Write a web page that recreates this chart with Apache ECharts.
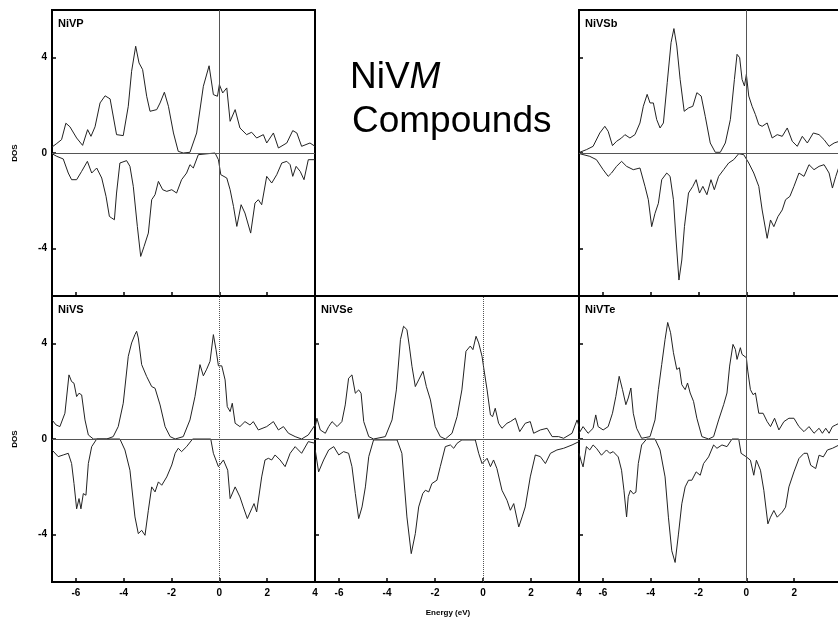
<!DOCTYPE html>
<html><head><meta charset="utf-8">
<script src="https://cdn.jsdelivr.net/npm/echarts@6/dist/echarts.min.js"></script>
<style>html,body{margin:0;padding:0;background:#fff}#c{width:838px;height:622px}</style>
</head><body><div id="c"></div>
<script>
// ---- tick labels ----
const xTicks = [-6, -4, -2, 0, 2, 4];
const yTicks = [-4, 0, 4];
const panelNames = ['NiVP', 'NiVSb', 'NiVS', 'NiVSe', 'NiVTe'];

// ---- data: [energy (eV), DOS] ----
const nivpUp = [[-7.0,0.25],[-6.8,0.4],[-6.6,0.56],[-6.42,1.25],[-6.25,1.1],[-5.97,0.63],[-5.72,0.32],[-5.51,0.98],[-5.37,0.7],[-5.2,1.1],[-4.99,2.1],[-4.78,2.4],[-4.57,2.27],[-4.3,0.77],[-4.02,0.73],[-3.81,1.96],[-3.67,3.43],[-3.5,4.48],[-3.36,3.78],[-3.21,3.5],[-3.04,2.38],[-2.9,1.75],[-2.62,1.82],[-2.48,2.1],[-2.3,2.55],[-2.13,1.96],[-1.92,0.84],[-1.72,0.07],[-1.51,0],[-1.23,0.03],[-0.95,0.84],[-0.67,2.8],[-0.43,3.66],[-0.25,2.45],[-0.08,2.38],[0,2.87],[0.14,2.52],[0.31,2.73],[0.45,1.33],[0.66,1.82],[0.86,1.05],[1.14,0.77],[1.35,0.87],[1.56,0.63],[1.84,0.77],[1.98,0.42],[2.26,0.84],[2.47,0.21],[2.82,0.42],[3.07,0.94],[3.24,0.84],[3.44,0.28],[3.79,0.42],[4.0,0.28]];
const nivpDown = [[-7.0,-0.03],[-6.8,-0.14],[-6.53,-0.25],[-6.32,-0.84],[-6.18,-1.12],[-5.97,-1.12],[-5.76,-0.77],[-5.52,-0.35],[-5.34,-0.84],[-5.13,-0.63],[-4.92,-1.05],[-4.74,-1.82],[-4.6,-2.66],[-4.5,-2.73],[-4.39,-2.8],[-4.3,-1.68],[-4.16,-0.42],[-3.88,-0.32],[-3.74,-0.56],[-3.6,-1.4],[-3.43,-3.08],[-3.29,-4.34],[-3.15,-3.92],[-2.97,-3.36],[-2.83,-1.96],[-2.69,-1.75],[-2.55,-1.19],[-2.37,-1.54],[-2.2,-1.61],[-1.99,-1.54],[-1.79,-1.68],[-1.58,-1.12],[-1.37,-0.84],[-1.23,-0.49],[-1.09,-0.63],[-0.88,-0.07],[-0.81,0],[-0.18,0],[-0.04,-0.28],[0.06,-0.91],[0.31,-1.05],[0.45,-1.54],[0.59,-2.24],[0.73,-3.08],[0.91,-2.17],[1.07,-2.52],[1.31,-3.36],[1.49,-2.1],[1.63,-1.96],[1.77,-2.17],[1.98,-0.98],[2.19,-1.26],[2.4,-0.91],[2.61,-0.42],[2.82,-0.35],[2.96,-0.49],[3.07,-0.98],[3.21,-0.56],[3.38,-0.77],[3.54,-1.12],[3.72,-0.28],[4.0,-0.28]];

const nivsbUp = [[-6.97,0.03],[-6.69,0.14],[-6.41,0.28],[-6.13,0.84],[-5.92,1.12],[-5.78,0.91],[-5.6,0.31],[-5.43,0.49],[-5.22,0.63],[-5.08,0.77],[-4.87,0.63],[-4.66,0.77],[-4.45,1.26],[-4.31,1.96],[-4.15,2.46],[-4.03,2.1],[-3.89,2.1],[-3.75,1.4],[-3.61,1.05],[-3.47,1.26],[-3.31,2.95],[-3.15,4.63],[-3.03,5.22],[-2.91,4.49],[-2.77,3.09],[-2.6,1.75],[-2.42,1.89],[-2.24,1.96],[-2.07,2.53],[-1.89,2.39],[-1.72,1.54],[-1.51,0.42],[-1.3,0.03],[-1.09,0.03],[-0.88,0.42],[-0.67,1.4],[-0.5,3.09],[-0.39,4.14],[-0.28,4.0],[-0.18,3.09],[-0.08,2.81],[0,3.3],[0.1,2.39],[0.24,1.96],[0.38,1.61],[0.52,1.19],[0.66,1.12],[0.87,1.26],[1.08,0.63],[1.29,0.77],[1.5,0.7],[1.71,1.05],[1.92,0.49],[2.13,0.28],[2.34,0.7],[2.55,0.42],[2.8,0.84],[3.04,0.77],[3.25,0.56],[3.46,0.28],[3.67,0.42],[3.88,0.49],[4.0,0.5]];
const nivsbDown = [[-6.97,-0.03],[-6.55,-0.14],[-6.27,-0.28],[-5.99,-0.7],[-5.78,-0.98],[-5.64,-0.84],[-5.43,-0.56],[-5.22,-0.35],[-5.01,-0.56],[-4.73,-0.7],[-4.45,-0.63],[-4.24,-1.4],[-4.1,-1.96],[-3.96,-3.09],[-3.82,-2.53],[-3.68,-2.11],[-3.54,-1.12],[-3.33,-0.84],[-3.19,-0.98],[-3.05,-1.96],[-2.94,-3.65],[-2.82,-5.33],[-2.7,-4.49],[-2.59,-3.09],[-2.42,-1.68],[-2.24,-1.4],[-2.1,-1.12],[-1.96,-1.68],[-1.82,-1.4],[-1.65,-1.75],[-1.48,-1.12],[-1.34,-1.54],[-1.16,-0.98],[-0.95,-0.7],[-0.74,-0.42],[-0.53,-0.28],[-0.32,-0.03],[-0.11,-0.07],[0.1,-0.42],[0.31,-0.84],[0.52,-1.4],[0.66,-2.39],[0.87,-3.58],[1.01,-2.81],[1.15,-3.09],[1.32,-2.67],[1.5,-2.39],[1.64,-1.96],[1.82,-1.82],[1.99,-1.4],[2.2,-0.84],[2.41,-0.98],[2.62,-0.49],[2.83,-0.7],[3.04,-0.56],[3.25,-0.49],[3.46,-0.84],[3.6,-1.47],[3.74,-0.98],[3.88,-0.56],[4.0,-0.5]];

const nivsUp = [[-7.0,0.8],[-6.83,0.59],[-6.67,0.52],[-6.46,1.08],[-6.29,2.69],[-6.18,2.41],[-6.08,2.34],[-5.97,1.78],[-5.87,1.92],[-5.76,1.85],[-5.62,0.8],[-5.48,0.17],[-5.27,0],[-4.71,0],[-4.44,0.1],[-4.23,0.52],[-4.02,1.5],[-3.81,3.47],[-3.67,4.03],[-3.53,4.38],[-3.46,4.52],[-3.39,4.24],[-3.25,3.12],[-3.04,2.62],[-2.83,2.2],[-2.69,2.13],[-2.48,1.43],[-2.27,0.52],[-2.06,0.1],[-1.85,0],[-1.51,0.1],[-1.23,0.8],[-1.02,1.78],[-0.81,3.12],[-0.67,2.65],[-0.53,2.93],[-0.39,3.26],[-0.25,4.38],[-0.14,3.75],[-0.04,3.07],[0.1,3.07],[0.24,2.48],[0.33,1.36],[0.45,1.15],[0.54,1.5],[0.66,0.66],[0.86,0.52],[1.07,0.73],[1.28,0.59],[1.42,0.73],[1.63,0.38],[1.98,0.52],[2.26,0.73],[2.47,0.38],[2.68,0.52],[2.89,0.24],[3.17,0.1],[3.44,0],[3.72,0.17],[4.0,0.59]];
const nivsDown = [[-7.0,-0.46],[-6.74,-0.74],[-6.53,-0.67],[-6.32,-0.6],[-6.18,-1.03],[-6.08,-1.87],[-5.97,-2.93],[-5.87,-2.5],[-5.79,-2.93],[-5.69,-2.29],[-5.58,-2.36],[-5.48,-1.03],[-5.34,-0.32],[-5.13,0],[-4.16,0],[-3.95,-0.46],[-3.74,-1.31],[-3.53,-3.27],[-3.39,-3.97],[-3.25,-3.83],[-3.11,-4.04],[-2.97,-2.99],[-2.83,-2.01],[-2.69,-2.22],[-2.55,-1.8],[-2.41,-1.94],[-2.2,-1.59],[-1.99,-1.09],[-1.85,-0.6],[-1.72,-0.39],[-1.58,-0.53],[-1.37,-0.32],[-1.12,0],[-0.36,0],[-0.25,-0.6],[-0.04,-1.16],[0.17,-0.88],[0.35,-1.31],[0.45,-2.5],[0.66,-2.01],[0.86,-2.43],[1.0,-2.85],[1.17,-3.34],[1.35,-2.93],[1.45,-2.71],[1.56,-3.06],[1.77,-1.59],[1.91,-0.88],[2.05,-0.81],[2.19,-0.88],[2.33,-0.67],[2.54,-0.88],[2.75,-1.16],[2.96,-0.6],[3.17,-0.32],[3.44,-0.6],[3.72,-0.11],[4.0,-0.18]];

const nivseUp = [[-6.99,0.52],[-6.92,0.87],[-6.78,0.38],[-6.57,0.24],[-6.43,0.52],[-6.29,0.73],[-6.08,0.52],[-5.88,0.73],[-5.74,1.43],[-5.6,2.55],[-5.46,2.69],[-5.32,1.92],[-5.18,2.06],[-5.08,1.92],[-4.97,0.73],[-4.76,0.1],[-4.56,0],[-4.07,0.1],[-3.79,0.8],[-3.61,2.06],[-3.44,4.17],[-3.31,4.73],[-3.17,4.59],[-3.07,3.9],[-2.96,3.05],[-2.82,2.2],[-2.68,2.48],[-2.5,2.84],[-2.36,2.2],[-2.19,1.64],[-1.99,0.52],[-1.78,0.1],[-1.57,0],[-1.29,0.24],[-1.08,0.94],[-0.88,2.06],[-0.71,3.68],[-0.53,3.9],[-0.42,3.75],[-0.29,4.31],[-0.18,4.03],[-0.04,3.47],[0.03,2.98],[0.17,2.06],[0.31,1.01],[0.4,0.94],[0.51,1.29],[0.65,0.66],[0.79,0.45],[1.0,0.66],[1.14,0.73],[1.35,0.87],[1.53,0.31],[1.76,0.66],[1.97,0.73],[2.11,0.24],[2.39,0.38],[2.67,0.45],[2.88,0.1],[3.15,0.1],[3.36,0.03],[3.71,0.24],[3.92,0.8],[4.0,0.52]];
const nivseDown = [[-6.99,-0.46],[-6.85,-1.38],[-6.64,-0.88],[-6.43,-0.46],[-6.22,-0.32],[-6.01,-0.67],[-5.81,-0.53],[-5.6,-0.6],[-5.46,-1.16],[-5.32,-2.29],[-5.18,-3.34],[-5.04,-2.85],[-4.9,-2.01],[-4.76,-0.74],[-4.56,-0.04],[-3.58,-0.04],[-3.38,-0.6],[-3.17,-3.27],[-2.99,-4.81],[-2.82,-3.97],[-2.68,-2.85],[-2.51,-2.29],[-2.4,-2.15],[-2.26,-2.22],[-2.13,-1.87],[-1.92,-1.73],[-1.78,-1.16],[-1.57,-0.32],[-1.36,-0.25],[-1.22,-0.39],[-1.08,-0.18],[-0.88,-0.04],[-0.32,-0.04],[-0.18,-0.6],[-0.04,-1.03],[0.17,-0.81],[0.31,-1.16],[0.44,-0.88],[0.58,-1.24],[0.79,-2.15],[1.0,-2.57],[1.14,-2.99],[1.28,-2.71],[1.49,-3.69],[1.63,-3.27],[1.76,-2.85],[1.97,-1.59],[2.18,-0.67],[2.39,-0.74],[2.6,-1.03],[2.81,-0.6],[3.08,-0.46],[3.36,-0.39],[3.71,-0.25],[4.0,-0.11]];

const nivteUp = [[-7.0,0.24],[-6.83,0.52],[-6.62,0.24],[-6.41,0.45],[-6.3,1.01],[-6.2,0.52],[-5.99,0.38],[-5.78,0.52],[-5.6,1.08],[-5.46,1.78],[-5.32,2.63],[-5.18,2.07],[-5.04,1.44],[-4.94,1.72],[-4.83,2.14],[-4.73,1.08],[-4.59,0.45],[-4.38,0.03],[-4.03,0.1],[-3.82,0.8],[-3.68,2.07],[-3.54,3.13],[-3.4,4.18],[-3.29,4.89],[-3.17,4.46],[-3.05,3.62],[-2.91,2.92],[-2.8,2.99],[-2.7,2.28],[-2.56,2.07],[-2.46,2.35],[-2.35,1.93],[-2.21,1.58],[-2.07,0.87],[-1.86,0.1],[-1.58,0],[-1.37,0.1],[-1.16,0.8],[-0.95,1.44],[-0.81,1.93],[-0.7,3.06],[-0.56,3.97],[-0.46,3.76],[-0.39,3.34],[-0.25,3.83],[-0.18,3.55],[0,3.41],[0.06,2.85],[0.17,2.07],[0.28,1.86],[0.38,1.93],[0.52,1.08],[0.7,1.08],[0.87,0.73],[1.01,0.52],[1.18,0.87],[1.36,0.38],[1.57,0.73],[1.78,0.87],[1.99,0.87],[2.2,0.52],[2.41,0.31],[2.62,0.52],[2.83,0.24],[3.04,0.45],[3.18,0.24],[3.32,0.45],[3.46,0.24],[3.6,0.52],[3.74,0.59],[3.88,0.66],[4.0,0.6]];
const nivteDown = [[-7.0,-0.6],[-6.9,-0.96],[-6.83,-1.17],[-6.69,-0.32],[-6.55,-0.46],[-6.41,-0.25],[-6.27,-0.39],[-6.06,-0.68],[-5.85,-0.46],[-5.71,-0.6],[-5.57,-0.53],[-5.36,-0.75],[-5.22,-1.31],[-5.12,-2.15],[-5.01,-3.27],[-4.94,-2.42],[-4.85,-2.15],[-4.73,-2.3],[-4.62,-2.23],[-4.52,-1.03],[-4.38,-0.25],[-4.17,0],[-3.82,0],[-3.61,-0.46],[-3.4,-1.59],[-3.26,-3.28],[-3.12,-4.69],[-2.98,-5.18],[-2.84,-3.99],[-2.7,-2.72],[-2.56,-2.01],[-2.42,-1.73],[-2.28,-1.73],[-2.1,-1.38],[-1.93,-1.52],[-1.79,-1.03],[-1.58,-0.75],[-1.37,-0.25],[-1.23,-0.39],[-1.02,-0.25],[-0.81,-0.32],[-0.6,0],[-0.32,0],[-0.22,-0.6],[0,-0.75],[0.17,-0.89],[0.31,-1.52],[0.42,-0.89],[0.59,-1.31],[0.73,-2.15],[0.9,-3.56],[1.01,-3.28],[1.15,-3.0],[1.29,-3.28],[1.5,-3.07],[1.64,-2.86],[1.78,-2.01],[1.99,-1.38],[2.2,-0.82],[2.41,-0.6],[2.55,-0.6],[2.69,-1.1],[2.9,-1.24],[3.04,-0.68],[3.22,-0.75],[3.39,-0.46],[3.6,-0.39],[3.88,-0.25],[4.0,-0.22]];

// ---- layout ----
const FONT = '"Liberation Sans", Arial, Helvetica, sans-serif';
const panels = [
  {name: panelNames[0], up: nivpUp,  down: nivpDown,  left: 52,  top: 10,  w: 263, xl: false, yl: true,  vdash: 'solid'},
  {name: panelNames[1], up: nivsbUp, down: nivsbDown, left: 579, top: 10,  w: 263, xl: false, yl: false, vdash: 'solid'},
  {name: panelNames[2], up: nivsUp,  down: nivsDown,  left: 52,  top: 296, w: 263, xl: true,  yl: true,  vdash: 'dotted'},
  {name: panelNames[3], up: nivseUp, down: nivseDown, left: 315, top: 296, w: 264, xl: true,  yl: false, vdash: 'dotted'},
  {name: panelNames[4], up: nivteUp, down: nivteDown, left: 579, top: 296, w: 263, xl: true,  yl: false, vdash: 'solid'}
];
const H = 286;

const grids = [], xAxes = [], yAxes = [], series = [], graphics = [];
panels.forEach((p, i) => {
  grids.push({left: p.left, top: p.top, width: p.w, height: H, show: true,
    outerBoundsMode: 'none', containLabel: false,
    borderColor: '#000', borderWidth: 2, backgroundColor: 'transparent'});
  xAxes.push({gridIndex: i, type: 'value', min: -7, max: 4, position: 'bottom',
    axisLine: {show: false, onZero: false},
    axisTick: {show: true, inside: true, length: 4, customValues: xTicks, lineStyle: {color: '#000', width: 1.5}},
    axisLabel: {show: p.xl, customValues: xTicks, color: '#000', fontWeight: 'bold', fontSize: 10, fontFamily: FONT, margin: 6},
    splitLine: {show: false}});
  yAxes.push({gridIndex: i, type: 'value', min: -6, max: 6, position: 'left',
    axisLine: {show: false, onZero: false},
    axisTick: {show: true, inside: true, length: 4, customValues: yTicks, lineStyle: {color: '#000', width: 1.5}},
    axisLabel: {show: p.yl, customValues: yTicks, color: '#000', fontWeight: 'bold', fontSize: 10, fontFamily: FONT, margin: 5},
    splitLine: {show: false}});
  const lineStyle = {color: '#222', width: 1};
  series.push({type: 'line', xAxisIndex: i, yAxisIndex: i, data: p.up, showSymbol: false, symbol: 'none',
    lineStyle, clip: true,
    markLine: {silent: true, symbol: 'none', label: {show: false},
      data: [
        {yAxis: 0, lineStyle: {color: '#555', width: 1, type: 'solid'}},
        {xAxis: 0, lineStyle: {color: '#555', width: 1, type: p.vdash}}
      ]}});
  series.push({type: 'line', xAxisIndex: i, yAxisIndex: i, data: p.down, showSymbol: false, symbol: 'none',
    lineStyle, clip: true});
  graphics.push({type: 'text', x: p.left + 6, y: p.top + 14,
    style: {text: p.name, font: 'bold 11px ' + FONT, fill: '#000', textAlign: 'left', textVerticalAlign: 'middle'}});
});

graphics.push({type: 'text', x: 15, y: 153, rotation: Math.PI / 2,
  style: {text: 'DOS', font: 'bold 8px ' + FONT, fill: '#000', textAlign: 'center', textVerticalAlign: 'middle'}});
graphics.push({type: 'text', x: 15, y: 439, rotation: Math.PI / 2,
  style: {text: 'DOS', font: 'bold 8px ' + FONT, fill: '#000', textAlign: 'center', textVerticalAlign: 'middle'}});
graphics.push({type: 'text', x: 448, y: 613,
  style: {text: 'Energy (eV)', font: 'bold 8px ' + FONT, fill: '#000', textAlign: 'center', textVerticalAlign: 'middle'}});
graphics.push({type: 'text', x: 350, y: 78,
  style: {text: '{a|NiV}{b|M}', textAlign: 'left', textVerticalAlign: 'middle',
    rich: {a: {fontSize: 37, fontFamily: FONT, fill: '#000', color: '#000'},
           b: {fontSize: 37, fontFamily: FONT, fontStyle: 'italic', fill: '#000', color: '#000'}}}});
graphics.push({type: 'text', x: 352, y: 122,
  style: {text: 'Compounds', font: '37px ' + FONT, fill: '#000', textAlign: 'left', textVerticalAlign: 'middle'}});

const chart = echarts.init(document.getElementById('c'), null, {renderer: 'canvas'});
chart.setOption({
  animation: false,
  backgroundColor: '#fff',
  grid: grids, xAxis: xAxes, yAxis: yAxes, series,
  graphic: graphics
});
</script></body></html>
